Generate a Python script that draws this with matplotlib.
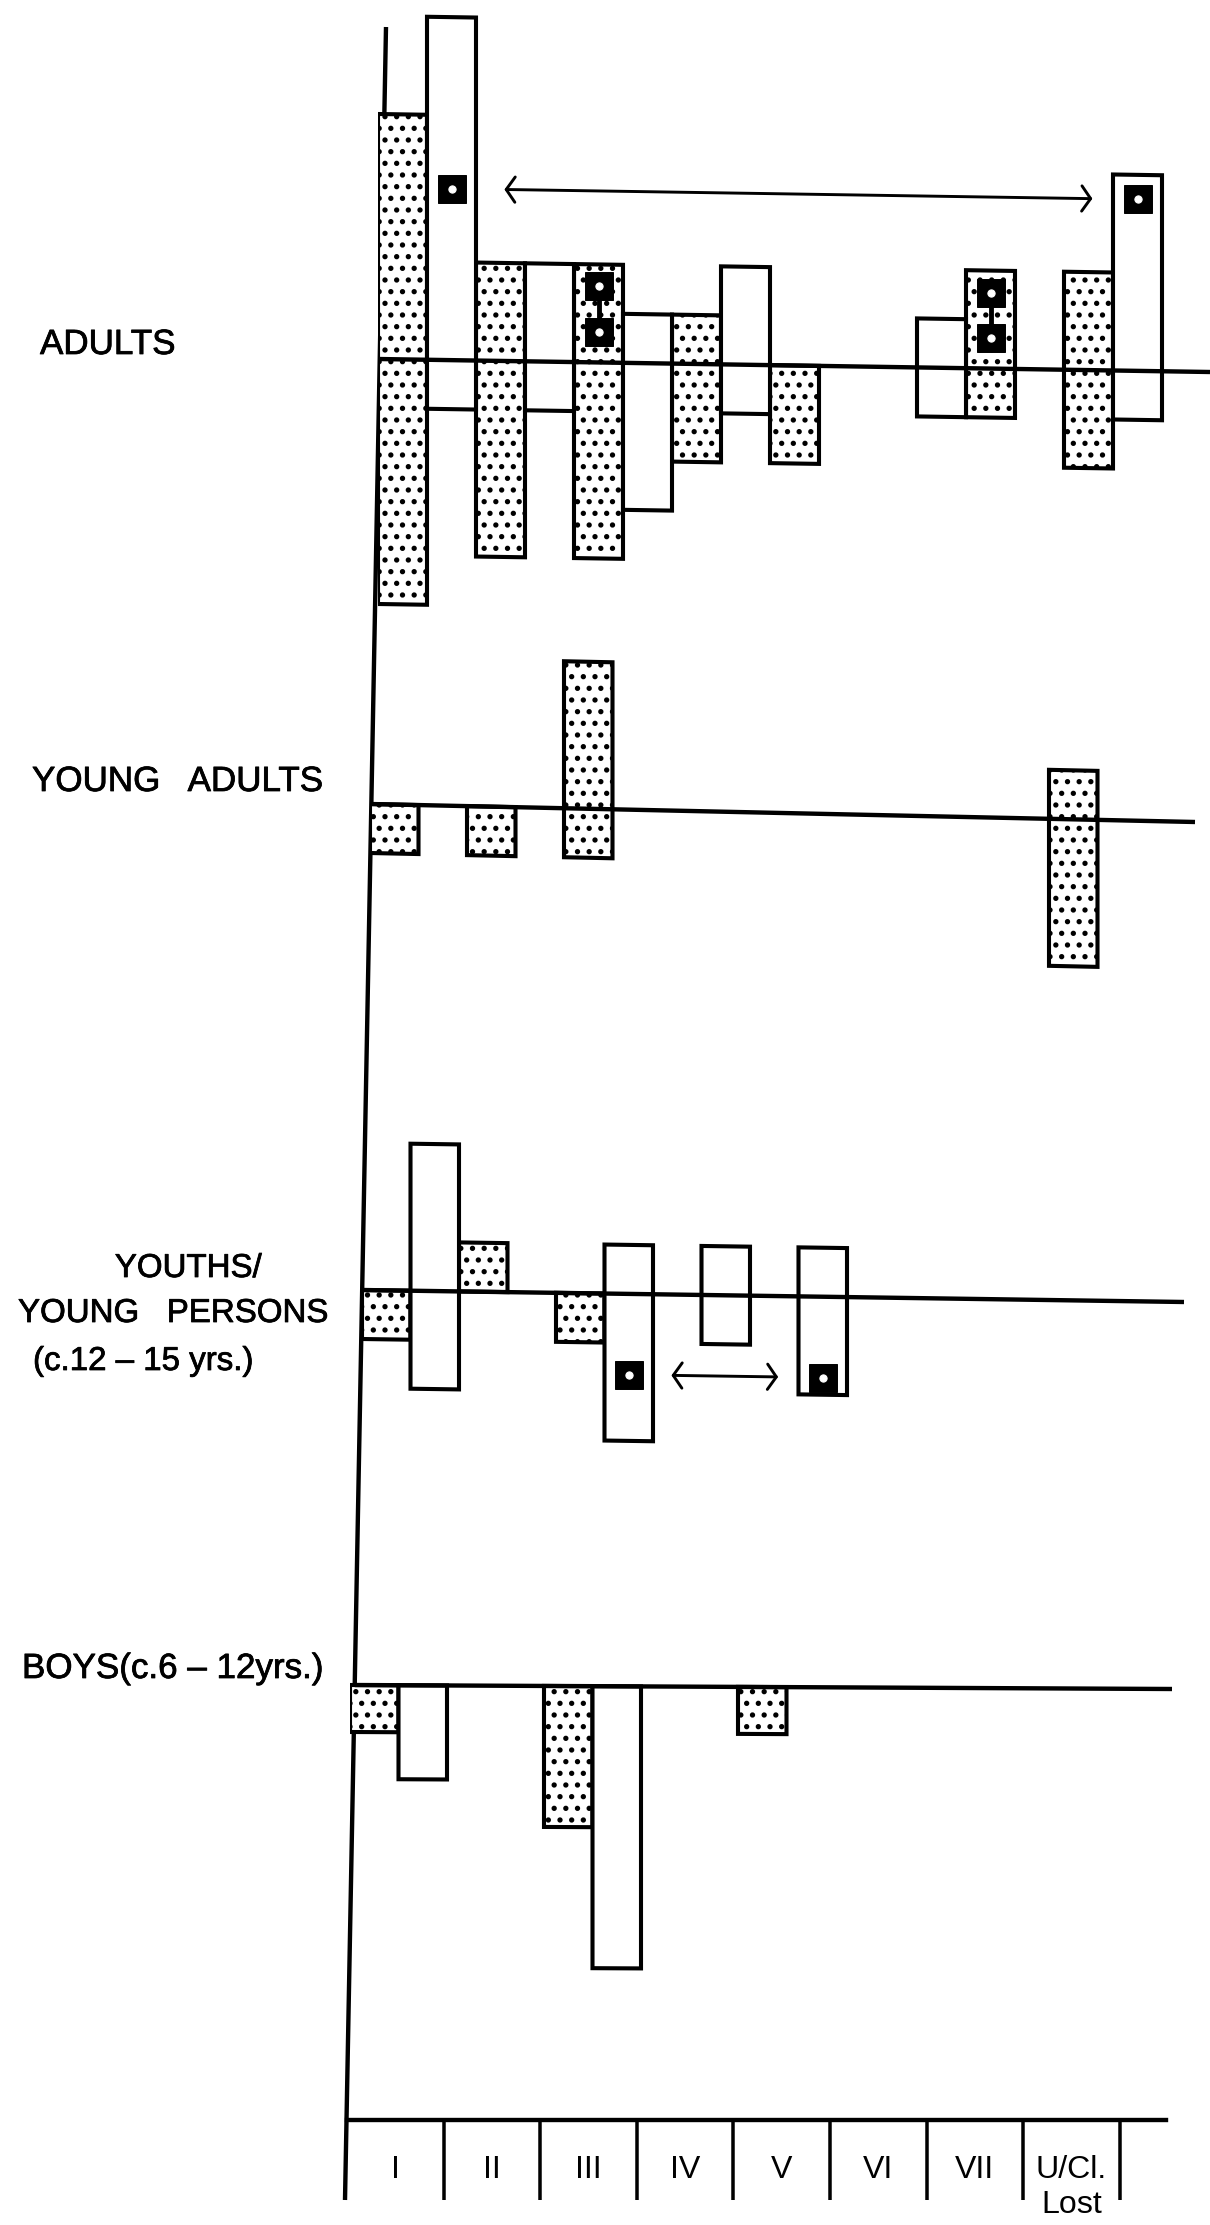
import numpy as np
import matplotlib
matplotlib.use('Agg')
import matplotlib.pyplot as plt
from matplotlib.transforms import Affine2D
from matplotlib import patheffects

plt.rcParams['font.family'] = ['Liberation Sans', 'DejaVu Sans']
plt.rcParams['hatch.linewidth'] = 3.0

classes = ['I', 'II', 'III', 'IV', 'V', 'VI', 'VII', 'U/Cl.\nLost']

# cases above / below the line, dotted bar (left) and plain bar (right) per class
adults_dot_up = [5, 2, 2, 1, 0, 0, 2, 2]
adults_dot_down = [5, 4, 4, 2, 2, 0, 1, 2]
adults_open_up = [7, 2, 1, 2, 0, 1, 0, 4]
adults_open_down = [1, 1, 3, 1, 0, 1, 0, 1]

young_dot_up = [0, 0, 3, 0, 0, 0, 0, 1]
young_dot_down = [1, 1, 1, 0, 0, 0, 0, 3]
young_open_up = [0, 0, 0, 0, 0, 0, 0, 0]
young_open_down = [0, 0, 0, 0, 0, 0, 0, 0]

youths_dot_up = [0, 1, 0, 0, 0, 0, 0, 0]
youths_dot_down = [1, 0, 1, 0, 0, 0, 0, 0]
youths_open_up = [3, 0, 1, 1, 1, 0, 0, 0]
youths_open_down = [2, 0, 3, 1, 2, 0, 0, 0]

boys_dot_up = [0, 0, 0, 0, 0, 0, 0, 0]
boys_dot_down = [1, 0, 3, 0, 1, 0, 0, 0]
boys_open_up = [0, 0, 0, 0, 0, 0, 0, 0]
boys_open_down = [2, 0, 6, 0, 0, 0, 0, 0]

# marked cases: (class index, which bar, level)
adults_marks = [(0, 'open', 3.5), (7, 'open', 3.5),
                (2, 'dot', 1.55), (2, 'dot', 0.62),
                (6, 'dot', 1.55), (6, 'dot', 0.62)]
youths_marks = [(2, 'open', -1.65), (4, 'open', -1.65)]

W_PX, H_PX, DPI = 1210, 2225, 70
fig = plt.figure(figsize=(W_PX / DPI, H_PX / DPI), dpi=DPI)
heavy = [patheffects.withStroke(linewidth=0.8, foreground='black')]


def px_axes(left, top, width, height):
    return fig.add_axes([left / W_PX, 1 - (top + height) / H_PX, width / W_PX, height / H_PX])


# background axes in pixels: the hand drawn upright and the row titles
bg = px_axes(0, 0, W_PX, H_PX)
bg.set_xlim(0, W_PX)
bg.set_ylim(H_PX, 0)
bg.set_axis_off()

axis_top = (386, 27)
axis_bottom = (345, 2200)
bg.plot([axis_top[0], axis_bottom[0]], [axis_top[1], axis_bottom[1]], color='k', lw=4.5, solid_capstyle='butt')


def axis_x_at(y):
    return axis_top[0] + (axis_bottom[0] - axis_top[0]) * (y - axis_top[1]) / (axis_bottom[1] - axis_top[1])


bg.text(40, 354, 'ADULTS', fontsize=36, path_effects=heavy)
bg.text(32, 791, 'YOUNG   ADULTS', fontsize=36, path_effects=heavy)
bg.text(188, 1277, 'YOUTHS/', fontsize=34, ha='center', path_effects=heavy)
bg.text(18, 1322, 'YOUNG   PERSONS', fontsize=34, path_effects=heavy)
bg.text(33, 1370, '(c.12 – 15 yrs.)', fontsize=34, path_effects=heavy)
bg.text(22, 1678, 'BOYS(c.6 – 12yrs.)', fontsize=36, path_effects=heavy)


def panel(x0, col, base, unit, end, drop, ylo, yhi):
    # base = height of the line where it meets the upright; it falls `drop` px across the page
    ax = px_axes(x0, base - yhi * unit, 8.7 * col, (yhi - ylo) * unit)
    ax.set_xlim(0, 8.7)
    ax.set_ylim(ylo, yhi)
    ax.set_axis_off()
    ox, oy = ax.transData.transform((0, 0))
    slope = drop / (end - x0)
    ax.tilt = ax.transData + Affine2D().translate(-ox, -oy).skew(0, -np.arctan(slope)).translate(ox, oy)
    start = (axis_x_at(base) - x0) / col
    ax.plot([start, (end - x0) / col], [0, 0], color='k', lw=4.5, zorder=3,
            solid_capstyle='butt', transform=ax.tilt)
    return ax


def draw_bars(ax, dot_up, dot_down, open_up, open_down):
    x = np.arange(len(classes))
    for off, up, down, hatch in [(0, dot_up, dot_down, '.'), (0.5, open_up, open_down, '')]:
        up = np.array(up)
        down = np.array(down)
        keep = (up + down) > 0
        bars = ax.bar(x[keep] + off, up[keep] + down[keep], width=0.5, bottom=-down[keep], align='edge',
                      facecolor='white', edgecolor='black', linewidth=4.2, hatch=hatch, zorder=2)
        for b in bars:
            b.set_transform(ax.tilt)


def draw_marks(ax, marks):
    xs = [i + (0.25 if bar == 'dot' else 0.75) for i, bar, lev in marks]
    ys = [lev for i, bar, lev in marks]
    groups = {}
    for x, y in zip(xs, ys):
        groups.setdefault(x, []).append(y)
    for x, lv in groups.items():
        if len(lv) > 1:
            ax.plot([x, x], [min(lv), max(lv)], color='k', lw=5, zorder=4, transform=ax.tilt)
    ax.plot(xs, ys, ls='none', marker='s', ms=28.5, color='k', zorder=5, transform=ax.tilt)
    ax.plot(xs, ys, ls='none', marker='o', ms=7.5, color='white', zorder=6, transform=ax.tilt)


def arrow(ax, x1, x2, y):
    ax.annotate('', xy=(x2, y), xytext=(x1, y), xycoords=ax.tilt, textcoords=ax.tilt,
                arrowprops=dict(arrowstyle='<->, head_length=0.35, head_width=0.5', lw=3,
                                color='k', mutation_scale=26, shrinkA=0, shrinkB=0))


ax1 = panel(378, 98, 359, 49, 1210, 13, -7.5, 8.5)
draw_bars(ax1, adults_dot_up, adults_dot_down, adults_open_up, adults_open_down)
draw_marks(ax1, adults_marks)
arrow(ax1, 1.29, 7.29, 3.5)

ax2 = panel(370, 97, 804, 49, 1195, 18, -4.5, 4.5)
draw_bars(ax2, young_dot_up, young_dot_down, young_open_up, young_open_down)

ax3 = panel(362, 97, 1290, 49, 1184, 12, -4.5, 4.5)
draw_bars(ax3, youths_dot_up, youths_dot_down, youths_open_up, youths_open_down)
draw_marks(ax3, youths_marks)
arrow(ax3, 3.19, 4.29, -1.65)

ax4 = panel(350, 97, 1685, 47, 1172, 4, -7.5, 1.5)
draw_bars(ax4, boys_dot_up, boys_dot_down, boys_open_up, boys_open_down)

# class axis along the bottom
col = 96.6
span = (1166 - 347) / col
cax = px_axes(347, 2100, span * col, 20)
cax.set_xlim(0, span)
cax.set_ylim(0, 1)
cax.patch.set_visible(False)
for s in ['top', 'left', 'right']:
    cax.spines[s].set_visible(False)
cax.spines['bottom'].set_linewidth(4.5)
cax.set_yticks([])
cax.set_xticks(np.arange(1, 9))
cax.set_xticks(np.arange(len(classes)) + 0.5, classes, minor=True)
cax.tick_params(axis='x', which='major', length=82, width=3.6, labelbottom=False)
cax.tick_params(axis='x', which='minor', length=0, pad=36, labelsize=33)
for t in cax.get_xticklabels(minor=True):
    t.set_linespacing(1.2)

fig.savefig('out.png', dpi=DPI)
